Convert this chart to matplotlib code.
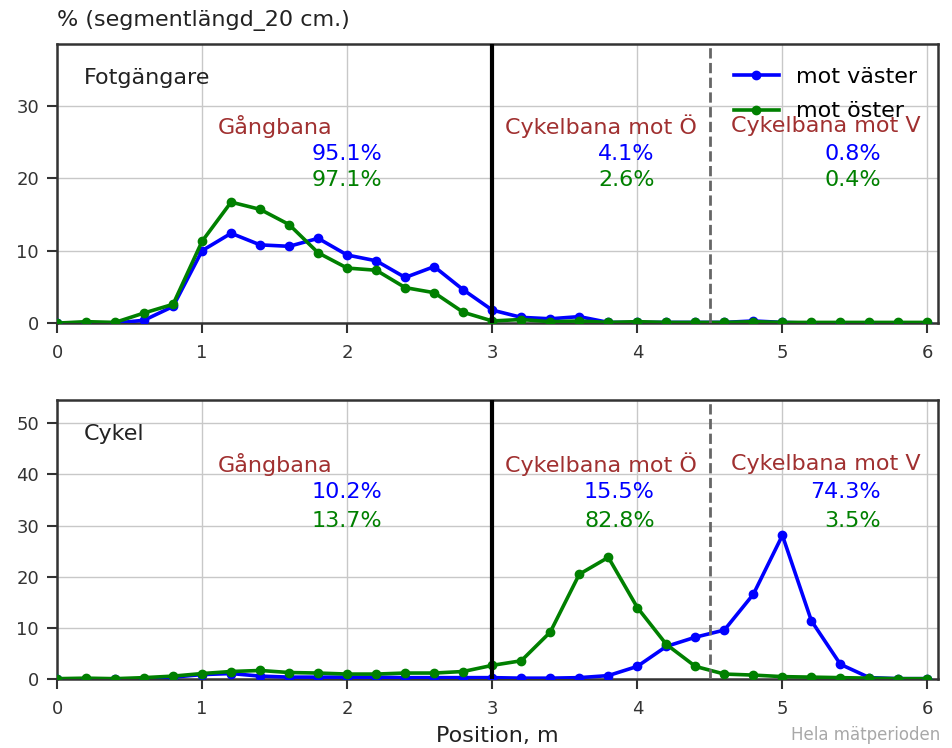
import numpy as np
import matplotlib
matplotlib.use('Agg')
import matplotlib.pyplot as plt

# positions, 20 cm segments
pos = [round(0.2 * i, 1) for i in range(31)]

# Fotgängare
gang_vast = [0, 0, 0, 0.4, 2.3, 10.0, 12.4, 10.8, 10.6, 11.7, 9.4, 8.6, 6.3, 7.8, 4.6, 1.8,
             0.8, 0.6, 0.9, 0.1, 0.1, 0.1, 0.1, 0.1, 0.3, 0.1, 0, 0, 0, 0, 0]
gang_ost = [0, 0.2, 0.1, 1.4, 2.6, 11.3, 16.7, 15.7, 13.6, 9.7, 7.6, 7.3, 4.9, 4.2, 1.5, 0.3,
            0.5, 0.2, 0.3, 0.1, 0.2, 0.1, 0.1, 0.1, 0.2, 0.1, 0.1, 0.1, 0.1, 0.1, 0.1]

# Cykel
cykel_vast = [0, 0, 0, 0.1, 0.4, 0.9, 1.1, 0.6, 0.4, 0.4, 0.4, 0.4, 0.3, 0.3, 0.3, 0.3,
              0.2, 0.2, 0.3, 0.7, 2.5, 6.4, 8.2, 9.6, 16.6, 28.1, 11.4, 2.9, 0.3, 0.1, 0.1]
cykel_ost = [0.1, 0.2, 0.1, 0.3, 0.6, 1.1, 1.5, 1.7, 1.3, 1.2, 1.0, 1.0, 1.2, 1.2, 1.5, 2.7,
             3.6, 9.2, 20.5, 23.8, 14.0, 6.8, 2.5, 1.0, 0.8, 0.5, 0.4, 0.3, 0.2, 0.1, 0.1]

zones = ['Gångbana', 'Cykelbana mot Ö', 'Cykelbana mot V']
zone_x = [1.5, 3.75, 5.3]
pct_x = [2.24, 4.12, 5.68]   # right edge of the percentages
gang_pct_vast = ['95.1%', '4.1%', '0.8%']
gang_pct_ost = ['97.1%', '2.6%', '0.4%']
cykel_pct_vast = ['10.2%', '15.5%', '74.3%']
cykel_pct_ost = ['13.7%', '82.8%', '3.5%']

fig = plt.figure(figsize=(9.52, 7.48), dpi=100)
ax1 = fig.add_axes([0.0599, 0.568, 0.925, 0.373])
ax2 = fig.add_axes([0.0599, 0.092, 0.925, 0.373])

panels = [
    (ax1, gang_vast, gang_ost, 'Fotgängare', 38.5, [0, 10, 20, 30],
     gang_pct_vast, gang_pct_ost, (27.2, 23.4, 19.8)),
    (ax2, cykel_vast, cykel_ost, 'Cykel', 54.5, [0, 10, 20, 30, 40, 50],
     cykel_pct_vast, cykel_pct_ost, (42.0, 36.5, 30.9)),
]

for ax, vast, ost, title, ytop, yt, pv, po, ys in panels:
    ax.plot(pos, vast, '-o', color='blue', lw=2.6, ms=6, label='mot väster', zorder=4)
    ax.plot(pos, ost, '-o', color='green', lw=2.6, ms=6, label='mot öster', zorder=4)
    ax.axvline(3, color='black', lw=3, zorder=5)
    ax.axvline(4.5, color='#666666', lw=2, ls='--', zorder=5)
    ax.set_xlim(0, 6.07)
    ax.set_ylim(0, ytop)
    ax.set_yticks(yt)
    ax.set_xticks([0, 1, 2, 3, 4, 5, 6])
    ax.grid(True, color='#c8c8c8', lw=1)
    ax.set_axisbelow(True)
    for s in ax.spines.values():
        s.set_color('#333333')
        s.set_linewidth(1.8)
    ax.tick_params(direction='out', length=7, width=1.5, pad=6, color='#333333',
                   labelsize=13, labelcolor='#333333')
    ax.tick_params(axis='x', pad=8)
    ax.text(0.03, 0.878, title, transform=ax.transAxes, fontsize=16,
            color='#222222', va='center')
    for i in range(3):
        ax.text(zone_x[i], ys[0], zones[i], color='#a03030', fontsize=16,
                ha='center', va='center')
        ax.text(pct_x[i], ys[1], pv[i], color='blue', fontsize=16,
                ha='right', va='center')
        ax.text(pct_x[i], ys[2], po[i], color='green', fontsize=16,
                ha='right', va='center')

ax1.legend(loc='upper right', frameon=False, fontsize=16, handlelength=2.0,
           labelspacing=0.65, bbox_to_anchor=(1.0, 0.99))
fig.text(0.0599, 0.973, '% (segmentlängd_20 cm.)', fontsize=16, color='#222222',
         va='center')
ax2.set_xlabel('Position, m', fontsize=16, color='#222222', labelpad=6)
fig.text(0.988, 0.006, 'Hela mätperioden', fontsize=12, color='#a8a8a8',
         ha='right', va='bottom')

fig.savefig('out.png', dpi=100)
